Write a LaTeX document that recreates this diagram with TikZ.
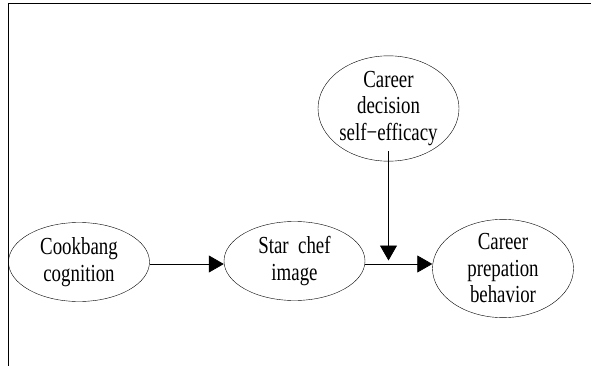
\documentclass[tikz,border=0pt]{standalone}
\usepackage{fontspec}
\setmainfont[FakeStretch=0.77]{Liberation Serif}
\usepackage{tikz}
\usetikzlibrary{shapes,arrows.meta,positioning,calc}

\begin{document}
\begin{tikzpicture}[x=1pt, y=1pt]
  % Define styles
  \tikzstyle{factor} = [ellipse, draw, align=center, inner sep=0pt, minimum width=141pt, minimum height=79pt, font=\fontsize{24.5}{26.5}\selectfont]
  \tikzstyle{arrow} = [-{Triangle[length=15pt,width=17pt]}, line width=0.8pt]

  % Frame
  \useasboundingbox (0,0) rectangle (591,-366);
  \draw[line width=1pt] (8,-366) -- (8,-4) -- (591,-4);

  % Factors
  \node [factor] (cookbang) at (79,-262) {Cookbang\\cognition};
  \node [factor] (starchef) at (294.5,-261) {Star\ \ chef\\image};
  \node [factor, minimum height=89pt] (prep) at (503,-268.5) {Career\\prepation\\behavior};
  \node [factor, minimum height=89pt] (decision) at (388.5,-108.5) {Career\\decision\\self−efficacy};

  % Paths
  \coordinate (join) at (decision.south |- 0,-264);
  \draw [arrow] (cookbang.east |- 0,-264) -- (starchef.west |- 0,-264);
  \draw [arrow] (starchef.east |- 0,-264) -- (prep.west |- 0,-264);
  \draw [arrow, shorten >=3.5pt] ($(decision.south)+(0,10)$) -- (join);

\end{tikzpicture}
\end{document}
